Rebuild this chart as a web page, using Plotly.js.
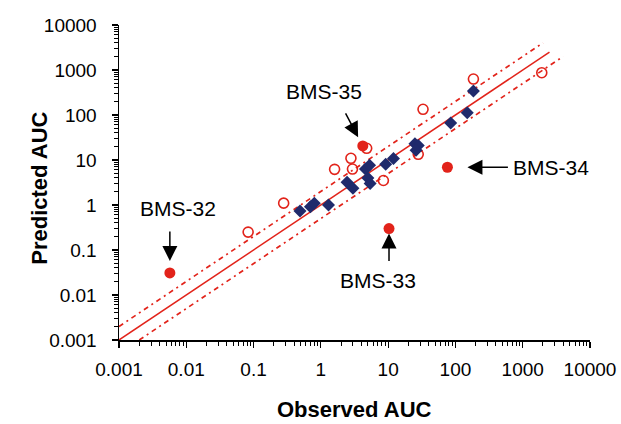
<!DOCTYPE html>
<html>
<head>
<meta charset="utf-8">
<script src="https://cdn.plot.ly/plotly-3.0.1.min.js"></script>
<style>html,body{margin:0;padding:0;background:#fff}#chart{width:621px;height:424px}</style>
</head>
<body>
<div id="chart"></div>
<script>
// Axis tick labels
const tickVals = [0.001, 0.01, 0.1, 1, 10, 100, 1000, 10000];
const tickText = ['0.001', '0.01', '0.1', '1', '10', '100', '1000', '10000'];
const minorDigits = [2, 3, 4, 5, 6, 7, 8, 9];
const xTitle = 'Observed AUC';
const yTitle = 'Predicted AUC';

// Blue diamonds (observed vs predicted AUC)
const diamondX = [0.49, 0.70, 0.80, 1.3, 2.45, 3.0, 4.6, 5.3, 5.0, 5.4, 9.2, 12, 25, 28, 26, 85, 150, 185];
const diamondY = [0.74, 0.92, 1.1, 1.0, 3.2, 2.35, 6.3, 7.6, 4.0, 3.0, 8.0, 10.8, 23, 21, 16.5, 66, 112, 340];

// Red open circles
const openX = [0.083, 0.28, 1.6, 2.8, 2.95, 4.8, 8.5, 28, 33, 185, 1920];
const openY = [0.25, 1.1, 6.2, 10.9, 6.3, 18.2, 3.5, 13.4, 134, 630, 870];

// Labelled outliers (red filled circles)
const namedLabels = ['BMS-32', 'BMS-33', 'BMS-34', 'BMS-35'];
const namedX = [0.0057, 10.3, 76, 4.2];
const namedY = [0.031, 0.30, 6.9, 20.5];

// Reference lines: line of unity and 2-fold limits
const unityX = [0.001, 2500];
const unityY = [0.001, 2500];
const upperX = [0.001, 2000];
const upperY = [0.002, 4000];
const lowerX = [0.002, 4000];
const lowerY = [0.001, 2000];

const RED = '#e2231a';
const NAVY = '#1f2a6c';
const FONT = 'Liberation Sans, Arial, sans-serif';

// minor tick positions (2..9 within every decade)
const minorVals = [];
tickVals.slice(0, -1).forEach(d => minorDigits.forEach(m => minorVals.push(d * m)));

const traces = [
  {x: unityX, y: unityY, mode: 'lines', line: {color: RED, width: 1.5}, hoverinfo: 'skip'},
  {x: upperX, y: upperY, mode: 'lines', line: {color: RED, width: 1.7, dash: '5px,4px,2px,4px'}, hoverinfo: 'skip'},
  {x: lowerX, y: lowerY, mode: 'lines', line: {color: RED, width: 1.7, dash: '5px,4px,2px,4px'}, hoverinfo: 'skip'},
  {x: openX, y: openY, mode: 'markers', marker: {symbol: 'circle-open', size: 10, color: RED, line: {width: 1.6, color: RED}}},
  {x: diamondX, y: diamondY, mode: 'markers', marker: {symbol: 'diamond', size: 10, color: NAVY, line: {width: 0}}},
  {x: namedX, y: namedY, mode: 'markers', marker: {symbol: 'circle', size: 11, color: RED, line: {width: 0}}}
];

// label offsets (pixels) for arrows and texts
const arrowAX = [0, 0, 62, -18];
const arrowAY = [-43, 34, 0, -34];
const arrowStand = [12, 5, 20, 10];
const textDX = [8, -11, 104, -39];
const textDY = [64, -52, 0, 54];

const annotations = [];
namedLabels.forEach((name, i) => {
  annotations.push({
    x: Math.log10(namedX[i]), y: Math.log10(namedY[i]), xref: 'x', yref: 'y',
    text: '', showarrow: true, arrowhead: 2, arrowsize: 2, arrowwidth: 1.5, arrowcolor: '#000',
    ax: arrowAX[i], ay: arrowAY[i], standoff: arrowStand[i]
  });
  annotations.push({
    x: Math.log10(namedX[i]), y: Math.log10(namedY[i]), xref: 'x', yref: 'y',
    text: name, showarrow: false, xshift: textDX[i], yshift: textDY[i],
    font: {family: FONT, size: 21, color: '#000'}
  });
});

// axis titles
annotations.push({
  xref: 'paper', yref: 'paper', x: 0.5, y: -0.222, xanchor: 'center', yanchor: 'middle',
  text: '<b>' + xTitle + '</b>', showarrow: false, borderpad: 0, font: {family: FONT, size: 22, color: '#000'}
});
annotations.push({
  xref: 'paper', yref: 'paper', x: -0.168, y: 0.483, xanchor: 'center', yanchor: 'middle',
  text: '<b>' + yTitle + '</b>', showarrow: false, textangle: -90, borderpad: 0, font: {family: FONT, size: 22, color: '#000'}
});

const axisCommon = {
  type: 'log', range: [-3, 4], showgrid: false, zeroline: false,
  showline: true, linecolor: '#000', linewidth: 1.5,
  ticks: 'outside', ticklen: 6, tickwidth: 1.2, tickcolor: '#000',
  tickmode: 'array', tickvals: tickVals, ticktext: tickText,
  tickfont: {family: FONT, size: 19, color: '#000'},
  minor: {tickmode: 'array', tickvals: minorVals, ticks: 'outside', ticklen: 4, tickwidth: 1, tickcolor: '#000', showgrid: false}
};

const layout = {
  width: 621, height: 424,
  margin: {l: 119, r: 31, t: 25, b: 84},
  paper_bgcolor: '#fff', plot_bgcolor: '#fff',
  showlegend: false,
  font: {family: FONT, color: '#000'},
  xaxis: Object.assign({}, axisCommon, {ticklabelstandoff: 6}),
  yaxis: Object.assign({}, axisCommon, {ticklabelstandoff: 11}),
  annotations: annotations
};

Plotly.newPlot('chart', traces, layout, {staticPlot: true, displayModeBar: false});
</script>
</body>
</html>
